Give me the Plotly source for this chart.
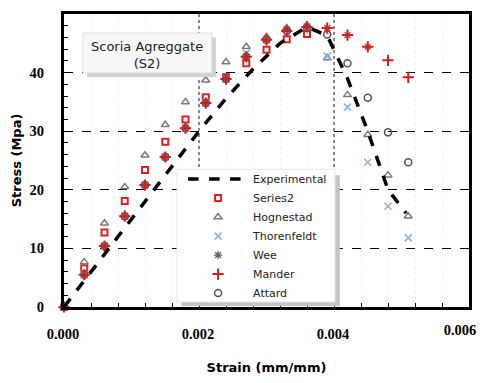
import plotly.graph_objects as go

# ---------------- data ----------------
exp_strain = [0, 0.0004, 0.0008, 0.0012, 0.0016, 0.0020, 0.0024, 0.0028, 0.0032,
              0.0036, 0.0039, 0.0042, 0.0045, 0.0048, 0.00507]
exp_stress = [0, 6.0, 12.0, 18.0, 24.0, 30.0, 35.6, 40.6, 45.0,
              47.8, 46.3, 39.0, 30.0, 20.0, 16.0]

strain = [0, 0.0003, 0.0006, 0.0009, 0.0012, 0.0015, 0.0018, 0.0021, 0.0024,
          0.0027, 0.0030, 0.0033, 0.0036, 0.0039, 0.0042, 0.0045, 0.0048, 0.0051]

series2 = [0, 6.6, 12.7, 18.1, 23.4, 28.2, 32.0, 35.8, 39.2,
           41.6, 43.9, 45.7, 46.6, None, None, None, None, None]
hognestad = [0, 7.7, 14.3, 20.5, 25.9, 31.1, 35.0, 38.7, 41.8,
             44.4, 46.1, 47.6, 48.1, 42.5, 36.2, 29.4, 22.5, 15.5]
thorenfeldt = [0, 5.5, 10.4, 15.5, 20.8, 25.6, 30.5, 34.8, 38.9,
               43.3, 45.6, 47.3, 47.8, 42.8, 34.1, 24.7, 17.2, 11.8]
wee = [0, 5.5, 10.4, 15.5, 20.8, 25.6, 30.5, 34.8, 38.9,
       42.7, 45.6, 47.3, 47.8, 47.6, 46.4, 44.4, None, None]
mander = [0, 5.5, 10.4, 15.5, 20.8, 25.6, 30.5, 34.8, 38.9,
          42.7, 45.6, 47.1, 47.8, 47.6, 46.4, 44.4, 42.1, 39.2]
attard = [0, 5.5, 10.4, 15.5, 20.8, 25.6, 30.5, 34.8, 38.9,
          42.7, 45.6, 47.1, 47.6, 46.5, 41.6, 35.7, 29.8, 24.7]

x_ticks = [0, 0.002, 0.004, 0.006]
x_ticklabels = ["0.000", "0.002", "0.004", "0.006"]
y_ticks = [0, 10, 20, 30, 40, 50]

# ---------------- figure ----------------
fig = go.Figure()

def mk(name, ys, symbol, color, size, lw, rank):
    fig.add_trace(go.Scatter(x=strain, y=ys, mode="markers", name=name,
                             marker=dict(symbol=symbol, size=size, color=color,
                                         line=dict(color=color, width=lw)),
                             cliponaxis=False, legendrank=rank))

mk("Series2", series2, "square-open", "#e02020", 6, 2, 2)
mk("Hognestad", hognestad, "triangle-up-open", "#7f7c64", 7, 1.5, 3)
mk("Thorenfeldt", thorenfeldt, "x-thin-open", "#8db4e2", 7, 1.6, 4)
mk("Attard", attard, "circle-open", "#555555", 7, 1.5, 7)
mk("Wee", wee, "asterisk-open", "#5f5f52", 7, 1.3, 5)
mk("Mander", mander, "cross-thin-open", "#e01818", 8, 2, 6)

# experimental curve on the overlaid x axis (same range as the main one)
fig.add_trace(go.Scatter(x=exp_strain, y=exp_stress, mode="lines", name="Experimental",
                         line=dict(color="black", width=3.5, dash="dash"),
                         xaxis="x2", yaxis="y", legendrank=1))

axis_font = dict(family="Liberation Serif", size=14.5, color="black", weight="bold")
title_font = dict(family="DejaVu Sans", size=13, color="black", weight="bold")

# main x axis: first three labels; the last (at the right edge) goes on the
# overlaid axis so that it can be nudged inward and stay fully visible
fig.update_layout(xaxis=dict(range=[0, 0.006], tickvals=x_ticks[:3], ticktext=x_ticklabels[:3],
                 tickfont=axis_font, ticks="inside", ticklen=5, tickcolor="black",
                 ticklabelstandoff=12, ticklabelshift=-1,
                 showline=True, linecolor="black", linewidth=3, mirror=True,
                 showgrid=True, gridcolor="#888888", griddash="dot", gridwidth=1.5,
                 zeroline=False,
                 minor=dict(dtick=0.0004, ticks="inside", ticklen=4, tickcolor="black",
                            showgrid=True, gridcolor="#f1f1f1", gridwidth=1),
                 title=dict(text="Strain (mm/mm)", font=title_font, standoff=23)))
fig.update_layout(xaxis2=dict(overlaying="x", anchor="y", side="bottom",
                              range=[0, 0.006], tickvals=x_ticks[3:],
                              ticktext=x_ticklabels[3:], tickfont=axis_font,
                              ticks="", ticklabelstandoff=12, ticklabelshift=-9,
                              ticklabeloverflow="allow",
                              showline=False, showgrid=False, zeroline=False))
fig.update_layout(yaxis=dict(range=[0, 50], tickvals=y_ticks,
                 tickfont=axis_font, ticks="inside", ticklen=5, tickcolor="black",
                 ticklabelstandoff=14,
                 showline=True, linecolor="black", linewidth=3, mirror=True,
                 showgrid=True, gridcolor="black", griddash="dash", gridwidth=1,
                 zeroline=False,
                 minor=dict(dtick=2, ticks="inside", ticklen=4, tickcolor="black"),
                 title=dict(text="Stress (Mpa)", font=title_font, standoff=6)))

# legend box with shadow
fig.add_shape(type="rect", xref="paper", yref="paper",
              x0=0.290, x1=0.681, y0=0.003, y1=0.45,
              fillcolor="#c4c4c4", line=dict(width=0), layer="above")
fig.add_shape(type="rect", xref="paper", yref="paper",
              x0=0.279, x1=0.669, y0=0.017, y1=0.470,
              fillcolor="white", line=dict(color="#e6e6e6", width=1), layer="above")
# title box with shadow
fig.add_shape(type="rect", xref="paper", yref="paper",
              x0=0.057, x1=0.375, y0=0.785, y1=0.92,
              fillcolor="#cfcfcf", line=dict(width=0), layer="above")
fig.add_shape(type="rect", xref="paper", yref="paper",
              x0=0.047, x1=0.365, y0=0.799, y1=0.935,
              fillcolor="#f7f7f7", line=dict(color="#dddddd", width=1), layer="above")

fig.add_annotation(x=0.205, y=0.860, xref="paper", yref="paper",
                   xanchor="center", yanchor="middle",
                   text="Scoria Agreggate<br>(S2)", showarrow=False,
                   font=dict(family="DejaVu Sans", size=13, color="#222222"),
                   align="center")

# page body has an 8px margin: keep the figure inside the window (no scrollbars)
fig.update_layout(
    width=478, height=367,
    margin=dict(l=56, r=17, t=6, b=68, autoexpand=False),
    paper_bgcolor="white", plot_bgcolor="white",
    showlegend=True,
    legend=dict(x=0.294, y=0.486, xanchor="left", yanchor="top",
                bgcolor="rgba(0,0,0,0)", borderwidth=0,
                font=dict(family="DejaVu Sans", size=11, color="#222222"),
                itemwidth=60, tracegroupgap=0),
)

fig.write_html("out.html")
